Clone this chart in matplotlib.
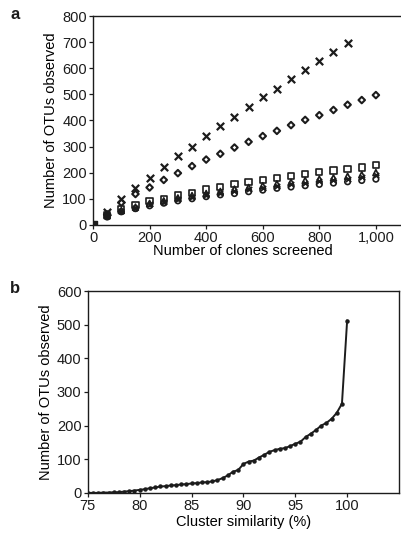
import numpy as np
import matplotlib
matplotlib.use('Agg')
import matplotlib.pyplot as plt

plt.rcParams['font.family'] = ['Liberation Sans', 'DejaVu Sans']

# --- panel a: OTUs vs clones screened ---
clones = [0, 50, 100, 150, 200, 250, 300, 350, 400, 450, 500, 550, 600,
          650, 700, 750, 800, 850, 900, 950, 1000]
otu_cross = [0, 50, 97, 140, 180, 220, 262, 300, 340, 378, 413, 450, 488,
             522, 558, 595, 628, 662, 695]
otu_diamond = [0, 40, 85, 118, 143, 172, 198, 225, 250, 272, 296, 318, 340,
               360, 382, 402, 420, 440, 460, 478, 497]
otu_square = [0, 38, 60, 75, 90, 100, 112, 122, 135, 145, 155, 163, 172,
              180, 188, 195, 202, 208, 215, 220, 228]
otu_triangle = [0, 35, 55, 68, 82, 92, 103, 112, 120, 128, 137, 143, 150,
                157, 163, 170, 175, 180, 186, 192, 200]
otu_smallx = [0, 33, 52, 65, 78, 88, 98, 106, 114, 122, 130, 136, 142,
              149, 155, 161, 166, 171, 177, 183, 190]
otu_circle = [0, 30, 50, 62, 73, 83, 92, 100, 108, 115, 120, 127, 133,
              140, 145, 150, 155, 160, 165, 170, 175]

# --- panel b: OTUs vs cluster similarity ---
similarity = [75, 75.5, 76, 76.5, 77, 77.5, 78, 78.5, 79, 79.5, 80, 80.5,
              81, 81.5, 82, 82.5, 83, 83.5, 84, 84.5, 85, 85.5, 86, 86.5,
              87, 87.5, 88, 88.5, 89, 89.5, 90, 90.5, 91, 91.5, 92, 92.5,
              93, 93.5, 94, 94.5, 95, 95.5, 96, 96.5, 97, 97.5, 98, 98.5,
              99, 99.5, 100]
otu_sim = [0, 0, 0, 1, 1, 2, 2, 4, 5, 7, 9, 11, 14, 16, 19, 20, 22, 23,
           25, 26, 28, 29, 31, 32, 34, 38, 44, 52, 63, 68, 86, 93, 96, 105,
           113, 122, 127, 131, 133, 139, 146, 152, 166, 176, 187, 200, 208,
           220, 238, 265, 512]

ink = '#1c1c1c'
fig = plt.figure(figsize=(4.01, 5.34), dpi=100)

# panel a (right side runs off the page, as in the scan)
ax1 = fig.add_axes([0.232, 0.579, 0.79, 0.391])
ax1.scatter(clones[:len(otu_cross)], otu_cross, marker='x', s=28, c=ink,
            linewidths=1.6, zorder=3)
ax1.scatter(clones, otu_diamond, marker='D', s=11, facecolors='none',
            edgecolors=ink, linewidths=1.5, zorder=3)
ax1.scatter(clones, otu_square, marker='s', s=20, facecolors='none',
            edgecolors=ink, linewidths=1.2, zorder=3)
ax1.scatter(clones, otu_triangle, marker='^', s=18, facecolors='none',
            edgecolors=ink, linewidths=1.2, zorder=3)
ax1.scatter(clones, otu_smallx, marker='x', s=14, c=ink, linewidths=1.3,
            zorder=3)
ax1.scatter(clones, otu_circle, marker='o', s=16, facecolors='none',
            edgecolors=ink, linewidths=1.2, zorder=3)
ax1.scatter([0], [0], marker='s', s=30, c=ink, zorder=4)
ax1.set_xlim(0, 1120)
ax1.set_ylim(0, 800)
ax1.set_xticks([0, 200, 400, 600, 800, 1000])
ax1.set_xticklabels(['0', '200', '400', '600', '800', '1,000'])
ax1.set_yticks(range(0, 801, 100))
ax1.set_xlabel('Number of clones screened', fontsize=10.5, labelpad=1)
ax1.xaxis.set_label_coords(0.473, -0.09)
ax1.set_ylabel('Number of OTUs observed', fontsize=10.5, labelpad=3)

# panel b
ax2 = fig.add_axes([0.219, 0.077, 0.776, 0.378])
ax2.plot(similarity, otu_sim, '-', color=ink, lw=1.4, marker='o', ms=2.2,
         mfc=ink, mec=ink)
ax2.set_xlim(75, 105)
ax2.set_ylim(0, 600)
ax2.set_xticks([75, 80, 85, 90, 95, 100])
ax2.set_yticks(range(0, 601, 100))
ax2.set_xlabel('Cluster similarity (%)', fontsize=10.5, labelpad=1)
ax2.set_ylabel('Number of OTUs observed', fontsize=10.5, labelpad=3)

for ax in (ax1, ax2):
    ax.tick_params(direction='out', length=3, width=0.9, labelsize=10.5,
                   pad=1.5, colors=ink)
    for sp in ax.spines.values():
        sp.set_linewidth(1.0)
        sp.set_color(ink)

fig.text(0.025, 0.965, 'a', fontsize=12, fontweight='bold', color=ink)
fig.text(0.025, 0.452, 'b', fontsize=12, fontweight='bold', color=ink)

fig.savefig('out.png', dpi=100)
